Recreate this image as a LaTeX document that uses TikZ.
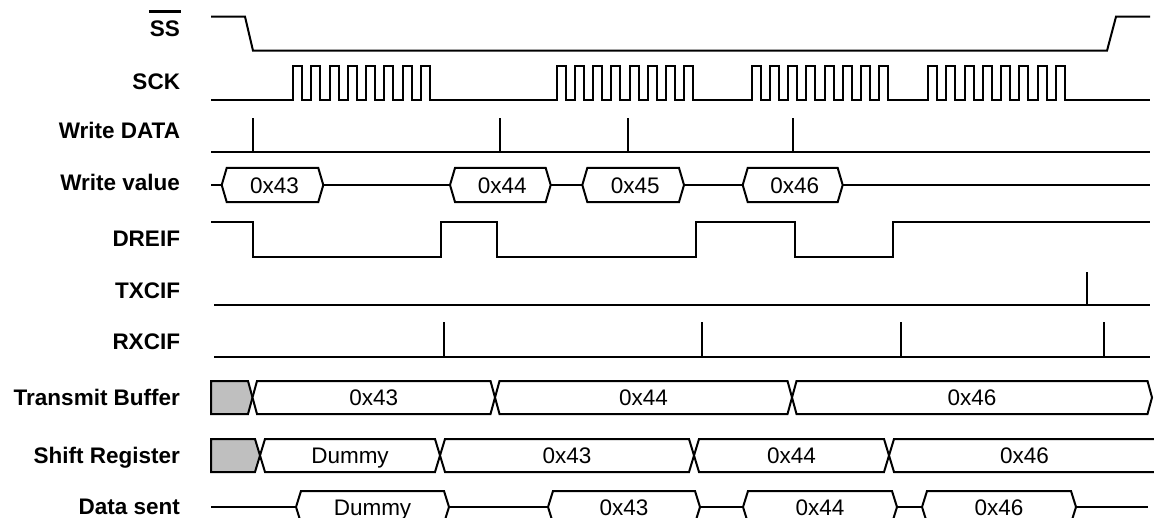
\documentclass[tikz,border=0pt]{standalone}
\usepackage{fontspec}
\setmainfont{Liberation Sans}
\begin{document}
\begin{tikzpicture}[x=0.5pt,y=-0.5pt,line width=1pt,line join=miter,
  font=\fontsize{11.25}{13.5}\selectfont,
  lbl/.style={anchor=east,inner sep=0pt,font=\fontsize{11.25}{13.5}\selectfont\bfseries,text height=8pt,text depth=0pt},
  val/.style={inner sep=0pt,text height=8pt,text depth=0pt}]
\useasboundingbox (0,0) rectangle (1154,518);
\clip (0,0) rectangle (1154,518);

\node[lbl] (ss) at (181,29) {SS};
\draw[line width=1.5pt] ([yshift=4pt]ss.north west) -- ([yshift=4pt]ss.north east);
\node[lbl] (sck) at (181,82) {SCK};
\node[lbl] (wdata) at (181,131) {Write DATA};
\node[lbl] (wval) at (181,183) {Write value};
\node[lbl] (dreif) at (181,238) {DREIF};
\node[lbl] (txcif) at (181,290) {TXCIF};
\node[lbl] (rxcif) at (181,341) {RXCIF};
\node[lbl] (txbuf) at (181,397) {Transmit Buffer};
\node[lbl] (shreg) at (181,455) {Shift Register};
\node[lbl] (dsent) at (181,506) {Data sent};

\draw (211,16.7) -- (245,16.7) -- (253,50.7) -- (1107,50.7) -- (1116,16.7) -- (1150,16.7);

\draw (211,100) \foreach \s in {293,556.5,751.5,928}{ -- (\s,100)
  \foreach \k in {0,...,7}{ -- ++(0,-34) -- ++(9.13,0) -- ++(0,34) -- ++(9.13,0)} } -- (1150,100);

\draw (211,151.7) -- (1150,151.7);
\foreach \x in {253,500,628,793}
  \draw (\x,151.7) -- (\x,117.7);

\draw (211,185) -- (1150,185);
\foreach \a/\b/\t in {221.7/323.3/0x43,450/550.7/0x44,582.3/684/0x45,742.7/842.7/0x46}{
  \draw[fill=white] (\a,185) -- (\a+5,168) -- (\b-5,168) -- (\b,185) -- (\b-5,202) -- (\a+5,202) -- cycle;
  \node[val] (wv-\t) at ({(\a+\b)/2+2},185) {\t};
}

\draw (211,222) -- (253,222) -- (253,256.5) -- (441,256.5) -- (441,222) -- (497,222) -- (497,256.5)
  -- (696,256.5) -- (696,222) -- (794.5,222) -- (794.5,256.5) -- (893,256.5) -- (893,222) -- (1150,222);

\draw (214,305) -- (1150,305);
\draw (1087,305) -- (1087,271.5);

\draw (214,356.5) -- (1150,356.5);
\foreach \x in {444,702,901,1104}
  \draw (\x,356.5) -- (\x,322);

\draw[fill=gray!50] (211,381) -- (248,381) -- (252.5,397.5) -- (248,414) -- (211,414) -- cycle;
\foreach \a/\b/\t in {252.5/495/0x43,495/792/0x44,792/1152/0x46}{
  \draw[fill=white] (\a,397.5) -- (\a+4.5,381) -- (\b-4.5,381) -- (\b,397.5) -- (\b-4.5,414) -- (\a+4.5,414) -- cycle;
  \node[val] (tb-\t) at ({(\a+\b)/2},397.5) {\t};
}

\draw[fill=gray!50] (211,439) -- (255,439) -- (260,455.5) -- (255,472) -- (211,472) -- cycle;
\foreach \a/\b/\t in {260/440/Dummy,440/694/0x43,694/889/0x44,889/1160/0x46}{
  \draw[fill=white] (\a,455.5) -- (\a+5,439) -- (\b-5,439) -- (\b,455.5) -- (\b-5,472) -- (\a+5,472) -- cycle;
  \node[val] (sr-\t) at ({(\a+\b)/2},455.5) {\t};
}

\draw (211,507) -- (1148,507);
\foreach \a/\b/\t in {296/449/Dummy,548/700/0x43,743/897/0x44,922/1076/0x46}{
  \draw[fill=white] (\a,507) -- (\a+5,491) -- (\b-5,491) -- (\b,507) -- (\b-5,523) -- (\a+5,523) -- cycle;
  \node[val] (ds-\t) at ({(\a+\b)/2},507) {\t};
}
\end{tikzpicture}
\end{document}
